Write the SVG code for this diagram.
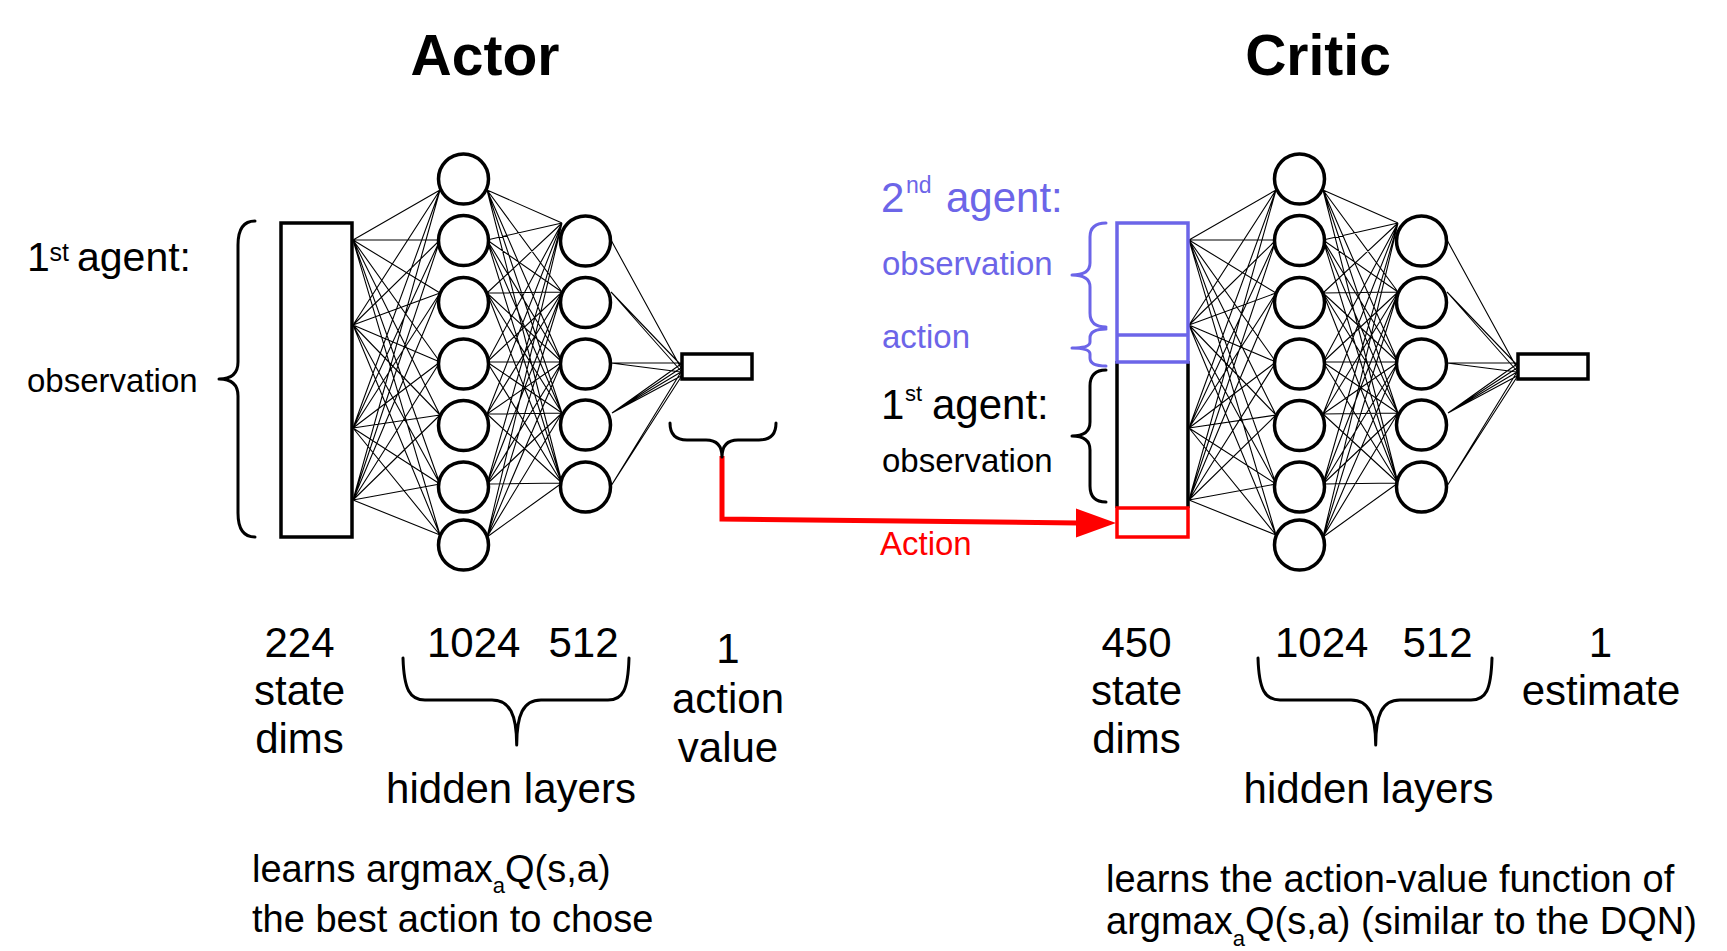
<svg xmlns="http://www.w3.org/2000/svg" xmlns:xlink="http://www.w3.org/1999/xlink" width="1727" height="951" viewBox="0 0 1727 951">
<style>
text{font-family:"Liberation Sans",Arial,sans-serif;fill:#000}
.title{font-size:57px;font-weight:bold;text-anchor:middle}
.big{font-size:42px}
.mid{font-size:38px}
.obs{font-size:33px}
.c{text-anchor:middle}
.blue{fill:#6c65e8}
.red{fill:#ff0000}
.node{fill:#fff;stroke:#000;stroke-width:3.5}
.box{fill:#fff;stroke:#000;stroke-width:3.5}
.link{fill:none;stroke:#000;stroke-width:1.1}
.brace{fill:none;stroke:#000;stroke-width:3;stroke-linecap:round;stroke-linejoin:round}
</style>
<rect width="1727" height="951" fill="#fff"/>
<text class="title" x="485" y="75">Actor</text>
<text class="title" x="1318" y="75">Critic</text>

<g id="connectors">
<g id="actor-links">
<path class="link" d="M353 240L440 190M353 240L440 240M353 240L440 293M353 240L440 362M353 240L440 415M353 240L440 484M353 240L440 535M353 325L440 190M353 325L440 240M353 325L440 293M353 325L440 362M353 325L440 415M353 325L440 484M353 325L440 535M353 428L440 190M353 428L440 240M353 428L440 293M353 428L440 362M353 428L440 415M353 428L440 484M353 428L440 535M353 500L440 190M353 500L440 240M353 500L440 293M353 500L440 362M353 500L440 415M353 500L440 484M353 500L440 535"/>
<path class="link" d="M487 190L562 223M487 190L562 292M487 190L562 362M487 190L562 413M487 190L562 483M487 240L562 223M487 240L562 292M487 240L562 362M487 240L562 413M487 240L562 483M487 293L562 223M487 293L562 292M487 293L562 362M487 293L562 413M487 293L562 483M487 362L562 223M487 362L562 292M487 362L562 362M487 362L562 413M487 362L562 483M487 414L562 223M487 414L562 292M487 414L562 362M487 414L562 413M487 414L562 483M487 484L562 223M487 484L562 292M487 484L562 362M487 484L562 413M487 484L562 483M487 537L562 223M487 537L562 292M487 537L562 362M487 537L562 413M487 537L562 483"/>
<path class="link" d="M611 240L681 368M611 292L681 365M611 292L681 371M611 363L681 363M611 363L681 372M612 413L681 364M612 413L681 368M612 413L681 372M612 413L681 376M611 486L681 372M611 486L681 377"/>
</g>
<use xlink:href="#actor-links" href="#actor-links" x="836" y="0"/>
<g id="action-arrow">
<polyline points="722,456 722,519 1078,523" fill="none" stroke="#ff0000" stroke-width="5" stroke-linejoin="miter"/>
<polygon points="1076,508.5 1116,523 1076,537.5" fill="#ff0000"/>
</g>
</g>

<g id="actor-input"><rect class="box" x="281" y="223" width="71" height="314"/></g>
<g id="actor-h1-1"><circle class="node" cx="463.5" cy="179" r="25"/></g>
<g id="actor-h1-2"><circle class="node" cx="463.5" cy="240.5" r="25"/></g>
<g id="actor-h1-3"><circle class="node" cx="463.5" cy="302.5" r="25"/></g>
<g id="actor-h1-4"><circle class="node" cx="463.5" cy="364" r="25"/></g>
<g id="actor-h1-5"><circle class="node" cx="463.5" cy="425.5" r="25"/></g>
<g id="actor-h1-6"><circle class="node" cx="463.5" cy="487" r="25"/></g>
<g id="actor-h1-7"><circle class="node" cx="463.5" cy="545" r="25"/></g>
<g id="actor-h2-1"><circle class="node" cx="585.5" cy="241" r="25"/></g>
<g id="actor-h2-2"><circle class="node" cx="585.5" cy="302.5" r="25"/></g>
<g id="actor-h2-3"><circle class="node" cx="585.5" cy="364" r="25"/></g>
<g id="actor-h2-4"><circle class="node" cx="585.5" cy="425" r="25"/></g>
<g id="actor-h2-5"><circle class="node" cx="585.5" cy="487" r="25"/></g>
<g id="actor-output"><rect class="box" x="682" y="354" width="70" height="25"/></g>

<g id="critic-input">
<rect x="1117" y="223" width="71" height="314" fill="#fff" stroke="none"/>
<path d="M1117 361V508M1188 361V508" stroke="#000" stroke-width="3.5" fill="none"/>
<rect x="1117" y="223" width="71" height="139" fill="none" stroke="#6c65e8" stroke-width="3.5"/>
<line x1="1117" y1="335" x2="1188" y2="335" stroke="#6c65e8" stroke-width="3.5"/>
<rect x="1117" y="508" width="71" height="29" fill="none" stroke="#ff0000" stroke-width="3.5"/>
</g>
<g id="critic-h1-1"><circle class="node" cx="1299.5" cy="179" r="25"/></g>
<g id="critic-h1-2"><circle class="node" cx="1299.5" cy="240.5" r="25"/></g>
<g id="critic-h1-3"><circle class="node" cx="1299.5" cy="302.5" r="25"/></g>
<g id="critic-h1-4"><circle class="node" cx="1299.5" cy="364" r="25"/></g>
<g id="critic-h1-5"><circle class="node" cx="1299.5" cy="425.5" r="25"/></g>
<g id="critic-h1-6"><circle class="node" cx="1299.5" cy="487" r="25"/></g>
<g id="critic-h1-7"><circle class="node" cx="1299.5" cy="545" r="25"/></g>
<g id="critic-h2-1"><circle class="node" cx="1421.5" cy="241" r="25"/></g>
<g id="critic-h2-2"><circle class="node" cx="1421.5" cy="302.5" r="25"/></g>
<g id="critic-h2-3"><circle class="node" cx="1421.5" cy="364" r="25"/></g>
<g id="critic-h2-4"><circle class="node" cx="1421.5" cy="425" r="25"/></g>
<g id="critic-h2-5"><circle class="node" cx="1421.5" cy="487" r="25"/></g>
<g id="critic-output"><rect class="box" x="1518" y="354" width="70" height="25"/></g>

<g id="braces">
<path class="brace" d="M255 221Q238 221 238 245L238 362Q238 379 219 379Q238 379 238 396L238 513Q238 537 255 537"/>
<path class="brace" d="M670 423Q670 440 687 440L706 440Q722 440 722 457Q722 440 738 440L759 440Q776 440 776 423"/>
<path class="brace" style="stroke:#6c65e8" d="M1106 223Q1090 223 1090 237L1090 263Q1090 275 1072 275Q1090 275 1090 287L1090 313Q1090 327 1106 327"/>
<path class="brace" style="stroke:#6c65e8" d="M1106 329Q1090 329 1090 338L1090 342Q1090 348 1072 348Q1090 348 1090 354L1090 358Q1090 366 1106 366"/>
<path class="brace" d="M1106 370Q1090 370 1090 386L1090 422Q1090 436 1072 436Q1090 436 1090 450L1090 486Q1090 502 1106 502"/>
<path class="brace" d="M403 658C404 690 410 700 425 700L492 700C510 700 516.7 715 516.7 745C516.7 715 523 700 541 700L608 700C623 700 628 690 629 658"/>
<path class="brace" d="M1258 658C1259 690 1265 700 1280 700L1351 700C1369 700 1375.7 715 1375.7 745C1375.7 715 1382 700 1400 700L1471 700C1486 700 1491 690 1492 658"/>
</g>

<g id="labels">
<text class="big" x="27" y="271" style="font-size:41px">1</text>
<text x="49.5" y="261" style="font-size:25px">st</text>
<text class="big" x="77" y="271" style="font-size:41px">agent:</text>
<text class="obs" x="27" y="392">observation</text>

<text class="big blue" x="881" y="212">2</text>
<text class="blue" x="906" y="193" style="font-size:23px">nd</text>
<text class="big blue" x="946" y="212">agent:</text>
<text class="obs blue" x="882" y="275">observation</text>
<text class="obs blue" x="882" y="348">action</text>

<text class="big" x="881" y="419">1</text>
<text x="905" y="401" style="font-size:22px">st</text>
<text class="big" x="932" y="419">agent:</text>
<text class="obs" x="882" y="472">observation</text>
<text class="obs red" x="880" y="555">Action</text>

<text class="big c" x="299.5" y="657">224</text>
<text class="big c" x="299.5" y="705">state</text>
<text class="big c" x="299.5" y="753">dims</text>
<text class="big" x="427" y="657">1024</text>
<text class="big" x="548.5" y="657">512</text>
<text class="big c" x="511" y="803">hidden layers</text>
<text class="big c" x="728" y="663">1</text>
<text class="big c" x="728" y="713">action</text>
<text class="big c" x="728" y="762">value</text>
<text class="mid" x="252" y="882">learns argmax<tspan style="font-size:22px" dy="11">a</tspan><tspan dy="-11">Q(s,a)</tspan></text>
<text class="mid" x="252" y="932">the best action to chose</text>

<text class="big c" x="1136.5" y="657">450</text>
<text class="big c" x="1136.5" y="705">state</text>
<text class="big c" x="1136.5" y="753">dims</text>
<text class="big" x="1275" y="657">1024</text>
<text class="big" x="1402.5" y="657">512</text>
<text class="big c" x="1368.5" y="803">hidden layers</text>
<text class="big c" x="1600.5" y="657">1</text>
<text class="big c" x="1601" y="705">estimate</text>
<text class="mid" x="1106" y="892">learns the action-value function of</text>
<text class="mid" x="1106" y="934">argmax<tspan style="font-size:22px" dy="12">a</tspan><tspan dy="-12">Q(s,a) (similar to the DQN)</tspan></text>
</g>
</svg>
